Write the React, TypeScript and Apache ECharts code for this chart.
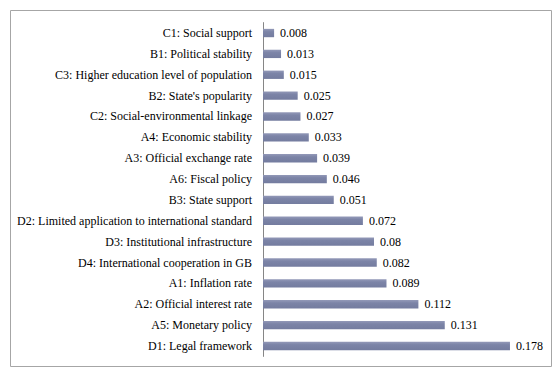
import React, { useEffect, useRef } from "react";
import * as echarts from "echarts";

const categories = [
  "C1: Social support",
  "B1: Political stability",
  "C3: Higher education level of population",
  "B2: State's popularity",
  "C2: Social-environmental linkage",
  "A4: Economic stability",
  "A3: Official exchange rate",
  "A6: Fiscal policy",
  "B3: State support",
  "D2: Limited application to international standard",
  "D3: Institutional infrastructure",
  "D4: International cooperation in GB",
  "A1: Inflation rate",
  "A2: Official interest rate",
  "A5: Monetary policy",
  "D1: Legal framework",
];
const values = [0.008, 0.013, 0.015, 0.025, 0.027, 0.033, 0.039, 0.046, 0.051, 0.072, 0.08, 0.082, 0.089, 0.112, 0.131, 0.178];
const valueLabels = ["0.008", "0.013", "0.015", "0.025", "0.027", "0.033", "0.039", "0.046", "0.051", "0.072", "0.08", "0.082", "0.089", "0.112", "0.131", "0.178"];

export default function App() {
  const ref = useRef<HTMLDivElement>(null);
  useEffect(() => {
    if (!ref.current) return;
    const chart = echarts.init(ref.current, undefined, { renderer: "svg" });
    const font = "Times New Roman, Liberation Serif, serif";
    chart.setOption({
      animation: false,
      backgroundColor: "#ffffff",
      textStyle: { fontFamily: font },
      graphic: [
        {
          type: "rect",
          shape: { x: 10.5, y: 10.5, width: 541, height: 356 },
          style: { fill: "none", stroke: "#a6a6a6", lineWidth: 1 },
          silent: true,
        },
      ],
      grid: { left: 263, right: 13.5, top: 22.6, bottom: 20.6, containLabel: false },
      xAxis: {
        type: "value",
        min: 0,
        max: 0.2,
        show: false,
      },
      yAxis: {
        type: "category",
        data: categories,
        inverse: true,
        axisLine: { show: true, lineStyle: { color: "#868686", width: 1 } },
        axisTick: { show: false },
        axisLabel: { fontFamily: font, fontSize: 12, color: "#000", margin: 11 },
        splitLine: { show: false },
      },
      series: [
        {
          type: "bar",
          data: values,
          barCategoryGap: "60%",
          itemStyle: {
            color: new echarts.graphic.LinearGradient(0, 0, 0, 1, [
              { offset: 0, color: "#9399b8" },
              { offset: 0.35, color: "#7c84a7" },
              { offset: 1, color: "#747c9f" },
            ]),
          },
          label: {
            show: true,
            position: "right",
            distance: 6,
            fontFamily: "serif",
            fontSize: 12,
            color: "#000",
            formatter: (p: any) => valueLabels[p.dataIndex],
          },
        },
      ],
    });
    return () => chart.dispose();
  }, []);
  return <div ref={ref} style={{ position: "fixed", left: 0, top: 0, width: 554, height: 377 }} />;
}
